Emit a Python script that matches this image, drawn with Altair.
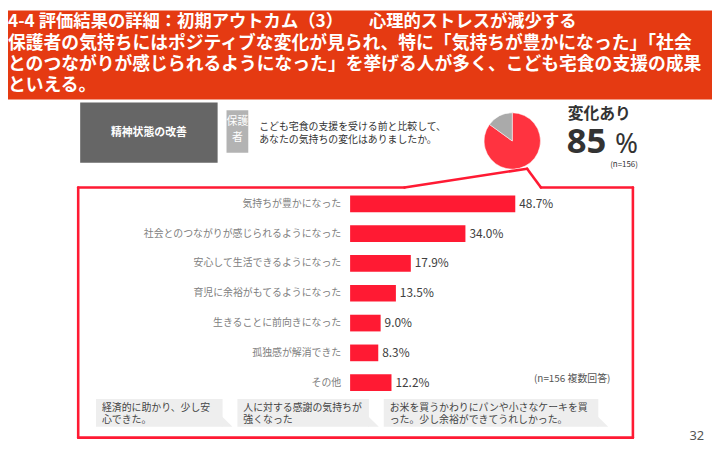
import altair as alt
import pandas as pd

# ---------------- data ----------------
categories = [
    "気持ちが豊かになった",
    "社会とのつながりが感じられるようになった",
    "安心して生活できるようになった",
    "育児に余裕がもてるようになった",
    "生きることに前向きになった",
    "孤独感が解消できた",
    "その他",
]
values = [48.7, 34.0, 17.9, 13.5, 9.0, 8.3, 12.2]

pie_labels = ["変化あり", "変化なし"]
pie_values = [85, 15]

title_line = "4-4 評価結果の詳細：初期アウトカム（3）　　心理的ストレスが減少する"
lead_lines = [
    "保護者の気持ちにはポジティブな変化が見られ、特に「気持ちが豊かになった」「社会",
    "とのつながりが感じられるようになった」を挙げる人が多く、こども宅食の支援の成果",
    "といえる。",
]
question_lines = ["こども宅食の支援を受ける前と比較して、", "あなたの気持ちの変化はありましたか。"]
comments = [
    ["経済的に助かり、少し安", "心できた。"],
    ["人に対する感謝の気持ちが", "強くなった"],
    ["お米を買うかわりにパンや小さなケーキを買", "った。少し余裕ができてうれしかった。"],
]

JP = "Noto Sans CJK JP"
RED = "#FF1A33"
OFF = 8  # page margin

one = pd.DataFrame({"a": [0]})


def X(v):
    return v - OFF


def Y(v):
    return v - OFF


def txt(text, x, y, size=10, color="#333333", weight="normal", align="left",
        baseline="middle", font=JP, **kw):
    return alt.Chart(one).mark_text(
        text=text, fontSize=size, color=color, fontWeight=weight, align=align,
        baseline=baseline, font=font, **kw
    ).encode(x=alt.value(X(x)), y=alt.value(Y(y)))


def box(x1, x2, y1, y2, fill, **kw):
    return alt.Chart(one).mark_rect(fill=fill, **kw).encode(
        x=alt.value(X(x1)), x2=alt.value(X(x2)), y=alt.value(Y(y1)), y2=alt.value(Y(y2))
    )


def seg(x1, y1, x2, y2, color=RED, w=2.6):
    return alt.Chart(one).mark_rule(color=color, strokeWidth=w, strokeCap="round").encode(
        x=alt.value(X(x1)), x2=alt.value(X(x2)), y=alt.value(Y(y1)), y2=alt.value(Y(y2))
    )


def tail(cx, cy, r=5.5, fill="#EEEEEE"):
    return alt.Chart(one).mark_point(
        shape="M-1,-1 L1,1 L-1,1 Z", filled=True, fill=fill, opacity=1,
        size=(2 * r) ** 2, strokeWidth=0
    ).encode(x=alt.value(X(cx)), y=alt.value(Y(cy)))


layers = []

# header
layers.append(alt.Chart(one).mark_rect(fill="#E53A12").encode(
    x=alt.value(0), x2=alt.value(712), y=alt.value(0), y2=alt.value(Y(98))))
layers.append(txt(title_line, 8, 20, size=17.5, color="white", weight="bold"))
for i, line in enumerate(lead_lines):
    layers.append(txt(line, 8, 42 + 21 * i, size=18, color="white", weight="bold"))

# left boxes
layers.append(box(81, 220, 101, 162, "#666666"))
layers.append(txt("精神状態の改善", 150.5, 132, size=11, color="white", weight="bold", align="center"))
layers.append(box(229, 251, 109, 152, "#B3B3B3"))
layers.append(txt("保護", 240, 121, size=11, color="white", align="center"))
layers.append(txt("者", 240, 137, size=11, color="white", align="center"))
layers.append(txt(question_lines[0], 262, 126, size=10, color="#333333"))
layers.append(txt(question_lines[1], 262, 139, size=10, color="#333333"))

# pie
pie_df = pd.DataFrame({"k": pie_labels, "v": pie_values, "o": [0, 1]})
layers.append(alt.Chart(pie_df).mark_arc(outerRadius=28.5, stroke="white", strokeWidth=0.5).encode(
    theta=alt.Theta("v:Q", stack=True),
    order=alt.Order("o:Q"),
    color=alt.Color("k:N", scale=alt.Scale(domain=pie_labels, range=["#FF3340", "#AAAAAA"]), legend=None),
    x=alt.value(X(518)), y=alt.value(Y(140)),
))
layers.append(txt("変化あり", 574, 113, size=16, color="#333333", weight="bold"))
layers.append(txt("85", 573, 152, size=35, color="#333333", weight="bold", baseline="alphabetic", font="Noto Sans"))
layers.append(txt("%", 622, 152, size=28, color="#333333", baseline="alphabetic", font="Noto Sans"))
layers.append(txt("(n=156)", 631, 164, size=8, color="#333333", align="center"))

# callout border
pts = [(79, 187), (409, 187), (533, 168), (547, 187), (640, 187), (640, 440), (79, 440), (79, 187)]
for (a, b), (c, d) in zip(pts[:-1], pts[1:]):
    layers.append(seg(a, b, c, d))

# bar chart
df = pd.DataFrame({"cat": categories, "val": values,
                   "label": [f"{v:.1f}%" for v in values]})
xs = alt.Scale(domain=[0, 50], range=[X(354), X(354) + 50 * 3.43])
ys = alt.Scale(domain=categories, range=[Y(188.5), Y(399.5)], paddingInner=0.44, paddingOuter=0.22)
base = alt.Chart(df)
layers.append(base.mark_bar(color=RED).encode(
    x=alt.X("val:Q", scale=xs, axis=None),
    y=alt.Y("cat:N", scale=ys, axis=None, sort=categories),
))
layers.append(base.mark_text(align="left", baseline="middle", dx=4, fontSize=12, color="#404040", font=JP).encode(
    x=alt.X("val:Q", scale=xs, axis=None),
    y=alt.Y("cat:N", scale=ys, axis=None, sort=categories),
    text="label:N",
))
layers.append(base.mark_text(align="right", baseline="middle", fontSize=10, color="#808080", font=JP).encode(
    x=alt.value(X(345)),
    y=alt.Y("cat:N", scale=ys, axis=None, sort=categories),
    text="cat:N",
))
layers.append(txt("(n=156 複数回答)", 540, 381, size=10, color="#555555"))

# comment bubbles
bx = [(97, 225), (240, 373), (388, 605)]
for (x1, x2), lines in zip(bx, comments):
    layers.append(box(x1, x2, 401, 429, "#EEEEEE"))
    layers.append(tail(x2 + 4.5, 423.5))
    layers.append(txt(lines[0], x1 + 6, 410, size=10, color="#444444"))
    layers.append(txt(lines[1], x1 + 6, 422, size=10, color="#444444"))

# page number
layers.append(txt("32", 712, 438, size=13, color="#555555", align="right", font="Noto Sans"))

chart = alt.layer(*layers).properties(
    width=712, height=442, padding=0,
    autosize=alt.AutoSizeParams(type="none"),
    background="white",
).configure_view(stroke=None)

chart.save("out.html", embed_options={"renderer": "svg", "actions": False})
